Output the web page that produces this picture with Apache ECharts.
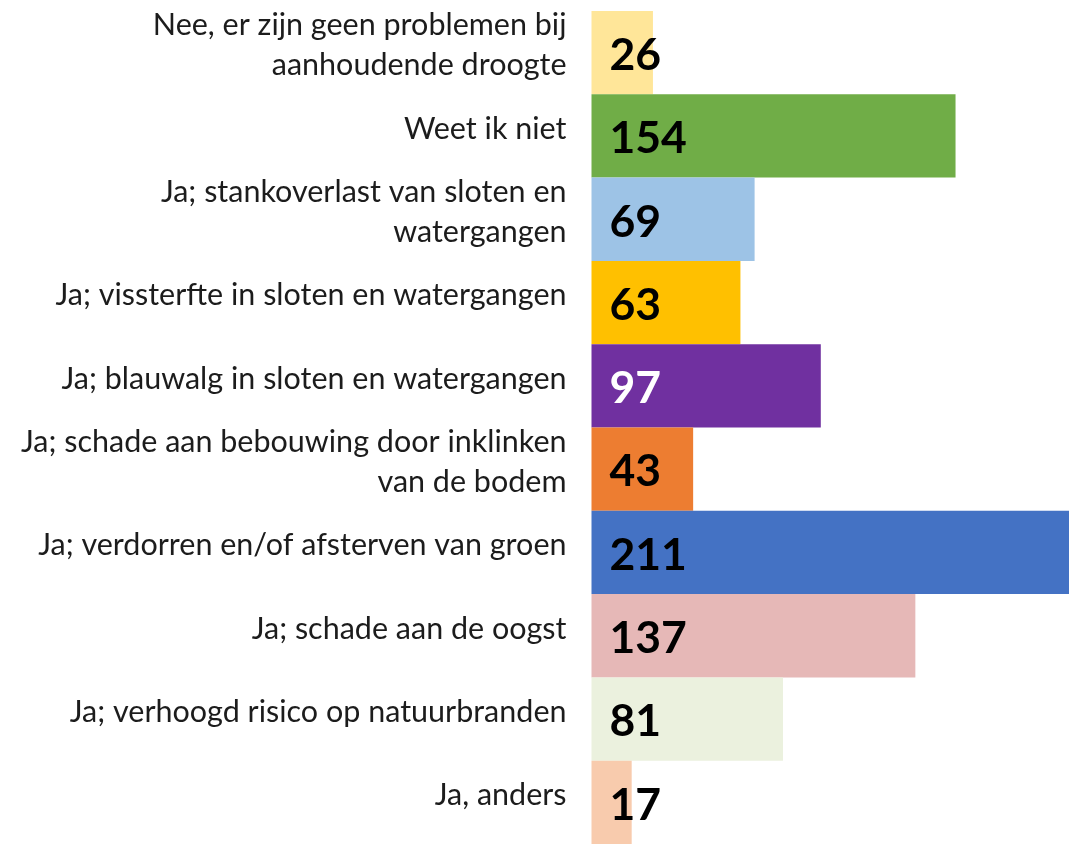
<!DOCTYPE html>
<html>
<head>
<meta charset="utf-8">
<script src="https://cdn.jsdelivr.net/npm/echarts@6/dist/echarts.min.js"></script>
<style>
html,body{margin:0;padding:0;background:#ffffff;}
#chart{width:1069px;height:844px;}
</style>
</head>
<body>
<div id="chart"></div>
<script>
const categories = [
  "Nee, er zijn geen problemen bij\naanhoudende droogte",
  "Weet ik niet",
  "Ja; stankoverlast van sloten en\nwatergangen",
  "Ja; vissterfte in sloten en watergangen",
  "Ja; blauwalg in sloten en watergangen",
  "Ja; schade aan bebouwing door inklinken\nvan de bodem",
  "Ja; verdorren en/of afsterven van groen",
  "Ja; schade aan de oogst",
  "Ja; verhoogd risico op natuurbranden",
  "Ja, anders"
];
const values = [26, 154, 69, 63, 97, 43, 211, 137, 81, 17];
const barColors = ["#FFE699", "#70AD47", "#9DC3E6", "#FFC000", "#7030A0", "#ED7D31", "#4472C4", "#E6B8B7", "#EBF1DE", "#F8CBAD"];
const labelColors = ["#000", "#000", "#000", "#000", "#fff", "#000", "#000", "#000", "#000", "#000"];

const chart = echarts.init(document.getElementById('chart'), null, {renderer: 'canvas'});
chart.setOption({
  backgroundColor: '#ffffff',
  animation: false,
  grid: {left: 591.5, right: 0, top: 11, bottom: 0, containLabel: false},
  xAxis: {
    type: 'value', min: 0, max: 202,
    show: false
  },
  yAxis: {
    type: 'category', inverse: true, data: categories,
    axisLine: {show: false}, axisTick: {show: false}, splitLine: {show: false},
    axisLabel: {
      interval: 0, showMinLabel: true, showMaxLabel: true, hideOverlap: false,
      margin: 25, fontFamily: 'Lato', fontSize: 30.5, color: '#1c1c1c',
      lineHeight: 40, align: 'right',
      formatter: function (v) { return v + '\n{s| }'; },
      rich: {s: {fontSize: 2, lineHeight: 14, height: 14}}
    }
  },
  series: [{
    type: 'bar',
    barCategoryGap: 0,
    data: values.map((v, i) => ({
      value: v,
      itemStyle: {color: barColors[i]},
      label: {color: labelColors[i]}
    })),
    label: {
      show: true, position: 'insideLeft', offset: [13, 3],
      fontFamily: 'Lato', fontWeight: 'bold', fontSize: 44.5
    }
  }]
});
</script>
</body>
</html>
